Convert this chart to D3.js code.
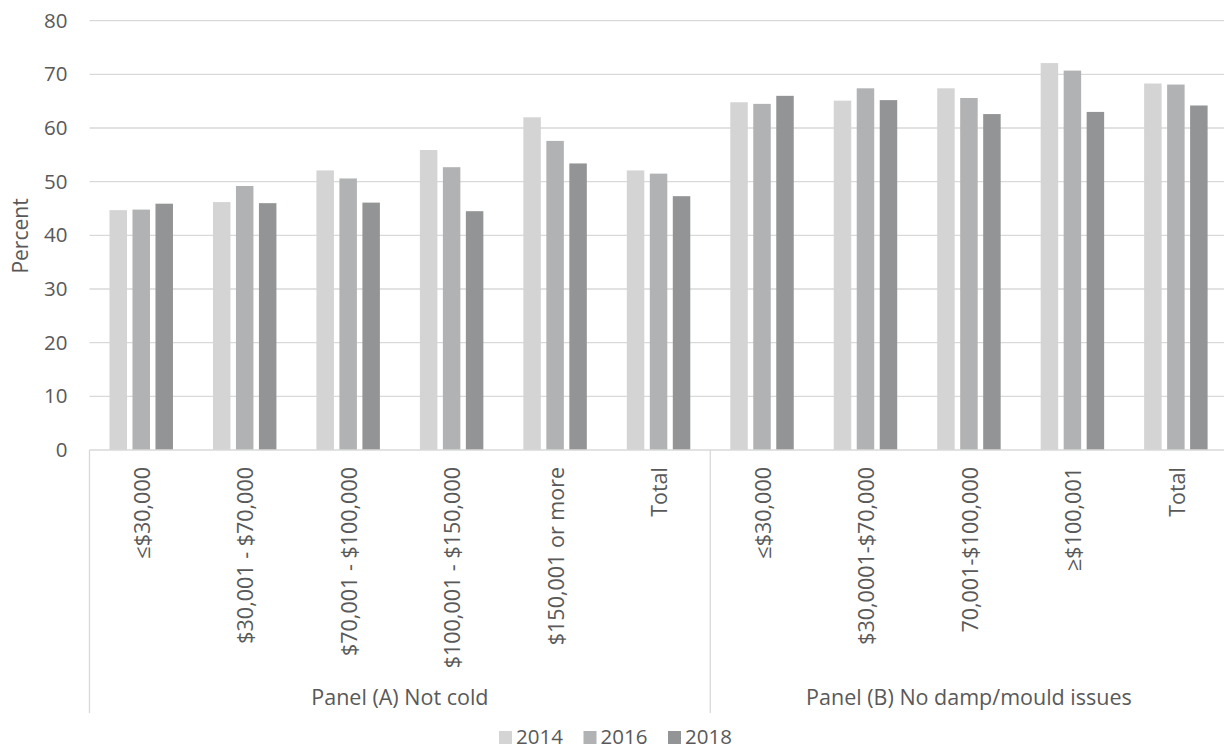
<!DOCTYPE html>
<html>
<head>
<meta charset="utf-8">
<script src="https://cdn.jsdelivr.net/npm/d3@7"></script>
<style>
  html, body { margin: 0; padding: 0; background: #fff; }
  svg { display: block; }
  text { font-family: "Open Sans", sans-serif; fill: #595959; }
</style>
</head>
<body>
<svg id="chart" width="1224" height="749"></svg>
<script>
// Panel groups and their income categories
const panels = ["Panel (A) Not cold", "Panel (B) No damp/mould issues"];
const panelACategories = ["\u2264$30,000", "$30,001 - $70,000", "$70,001 - $100,000", "$100,001 - $150,000", "$150,001 or more", "Total"];
const panelBCategories = ["\u2264$30,000", "$30,0001-$70,000", "70,001-$100,000", "\u2265$100,001", "Total"];

// Survey years (series)
const years = ["2014", "2016", "2018"];

// Percent values per series, panel A categories then panel B categories
const values2014 = [44.7, 46.2, 52.1, 55.9, 62.0, 52.1, 64.8, 65.1, 67.4, 72.1, 68.3];
const values2016 = [44.8, 49.2, 50.6, 52.7, 57.6, 51.5, 64.5, 67.4, 65.6, 70.7, 68.1];
const values2018 = [45.9, 46.0, 46.1, 44.5, 53.4, 47.3, 66.0, 65.2, 62.6, 63.0, 64.2];

const yTicks = [0, 10, 20, 30, 40, 50, 60, 70, 80];
const colors = ["#d3d4d3", "#b1b2b3", "#939495"];

// Build a flat table of categories with panel membership
const cats = [
  ...panelACategories.map((c, i) => ({ key: "A" + i, label: c, panel: 0 })),
  ...panelBCategories.map((c, i) => ({ key: "B" + i, label: c, panel: 1 }))
];
const seriesValues = [values2014, values2016, values2018];
cats.forEach((c, i) => { c.values = years.map((yr, j) => ({ year: yr, value: seriesValues[j][i], idx: j })); });

const svg = d3.select("#chart");
const plotLeft = 89.5, plotRight = 1227.6, plotTop = 20.7, plotBottom = 450;

const x0 = d3.scaleBand().domain(cats.map(d => d.key)).range([plotLeft, plotRight]).padding(0);
const x1 = d3.scaleBand().domain(years)
  .range([20, x0.bandwidth() - 20]).paddingInner(5.5 / 23).paddingOuter(0);
const y = d3.scaleLinear().domain([0, 80]).range([plotBottom, plotTop]);

// Horizontal gridlines
svg.append("g")
  .selectAll("line")
  .data(yTicks.filter(t => t > 0))
  .join("line")
  .attr("x1", plotLeft).attr("x2", plotRight)
  .attr("y1", d => y(d)).attr("y2", d => y(d))
  .attr("stroke", "#d9d9d9").attr("stroke-width", 1.3);

// Y axis labels
const yAxis = svg.append("g")
  .attr("transform", `translate(${plotLeft},0)`)
  .call(d3.axisLeft(y).tickValues(yTicks).tickSize(0).tickPadding(22));
yAxis.select(".domain").remove();
yAxis.selectAll("text")
  .style("font-family", "'Open Sans', sans-serif")
  .style("font-size", "20.5px")
  .attr("fill", "#595959");

// Axis title
svg.append("text")
  .attr("transform", `translate(28,236) rotate(-90)`)
  .attr("text-anchor", "middle")
  .style("font-size", "21px")
  .text("Percent");

// Bars
const groups = svg.append("g")
  .selectAll("g")
  .data(cats)
  .join("g")
  .attr("transform", d => `translate(${x0(d.key)},0)`);

groups.selectAll("rect")
  .data(d => d.values)
  .join("rect")
  .attr("x", d => x1(d.year))
  .attr("width", x1.bandwidth())
  .attr("y", d => y(d.value))
  .attr("height", d => y(0) - y(d.value))
  .attr("fill", d => colors[d.idx]);

// Category axis line and panel brackets
const axisColor = "#d9d9d9";
svg.append("line")
  .attr("x1", plotLeft).attr("x2", plotRight)
  .attr("y1", plotBottom).attr("y2", plotBottom)
  .attr("stroke", axisColor).attr("stroke-width", 1.3);

const panelBounds = [0, panelACategories.length, cats.length];
const boundaryX = panelBounds.map(i => i < cats.length ? x0(cats[i].key) : plotRight);
svg.append("g")
  .selectAll("line")
  .data(boundaryX)
  .join("line")
  .attr("x1", d => d).attr("x2", d => d)
  .attr("y1", plotBottom).attr("y2", 713)
  .attr("stroke", axisColor).attr("stroke-width", 1.3);

// Rotated category labels
svg.append("g")
  .selectAll("text")
  .data(cats)
  .join("text")
  .attr("transform", d => `translate(${x0(d.key) + x0.bandwidth() / 2 + 1},467) rotate(-90)`)
  .attr("text-anchor", "end")
  .attr("dy", "0.36em")
  .style("font-size", "21.5px")
  .text(d => d.label);

// Panel labels
svg.append("g")
  .selectAll("text")
  .data(panels)
  .join("text")
  .attr("x", (d, i) => (boundaryX[i] + boundaryX[i + 1]) / 2)
  .attr("y", 705)
  .attr("text-anchor", "middle")
  .style("font-size", "21.5px")
  .text(d => d);

// Legend
const legend = svg.append("g")
  .selectAll("g")
  .data(years)
  .join("g")
  .attr("transform", (d, i) => `translate(${499 + i * 84.5},731)`);
legend.append("rect")
  .attr("width", 13).attr("height", 13)
  .attr("fill", (d, i) => colors[i]);
legend.append("text")
  .attr("x", 17).attr("y", 13)
  .style("font-size", "20.5px")
  .text(d => d);
</script>
</body>
</html>
